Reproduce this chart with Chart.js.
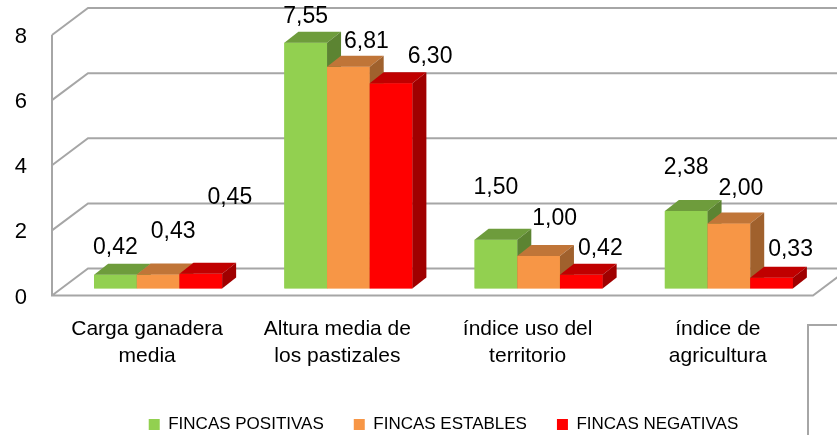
<!DOCTYPE html>
<html>
<head>
<meta charset="utf-8">
<script src="https://cdn.jsdelivr.net/npm/chart.js@4.4.1/dist/chart.umd.min.js"></script>
<style>
  html, body { margin: 0; padding: 0; background: #ffffff; }
  #wrap { width: 837px; height: 435px; position: relative; }
</style>
</head>
<body>
<div id="wrap"><canvas id="c" width="837" height="435"></canvas></div>
<script>
// ---- data ----
const categories = [
  ["Carga ganadera", "media"],
  ["Altura media de", "los pastizales"],
  ["índice uso del", "territorio"],
  ["índice de", "agricultura"]
];
const seriesNames = ["FINCAS POSITIVAS", "FINCAS ESTABLES", "FINCAS NEGATIVAS"];
const fincasPositivas = [0.42, 7.55, 1.50, 2.38];
const fincasEstables  = [0.43, 6.81, 1.00, 2.00];
const fincasNegativas = [0.45, 6.30, 0.42, 0.33];
const yTickValues = [0, 2, 4, 6, 8];

// ---- styles ----
const frontColors = ["#92D050", "#F79646", "#FF0000"];
const topColors   = ["#6E9C3C", "#C07538", "#C00000"];
const sideColors  = ["#5C8432", "#A0612D", "#A00000"];
const FONT = "'Liberation Sans', Arial, sans-serif";
const GRID = "#a6a6a6";
const DEPTH = { dx: 14, dy: -11 };           // bar depth
const WALL = { fx: -11, fy: 7, bx: 25, by: -20 }; // wall front/back offsets from bar plane
// label nudges relative to bar top centre [category][series] (dx, dy)
const labelNudge = [
  [[0, -1], [15, -17], [29, -50]],
  [[0, 0], [18, 1], [39, -1]],
  [[0, -26], [16, -11], [19, 0]],
  [[0, -17], [12, -9], [19, -2]]
];

const fmt = v => v.toFixed(2).replace('.', ',');

const wallPlugin = {
  id: 'walls',
  beforeDatasetsDraw(chart) {
    const ctx = chart.ctx, ys = chart.scales.y, a = chart.chartArea;
    ctx.save();
    ctx.strokeStyle = GRID;
    ctx.lineWidth = 2;
    ctx.beginPath();
    yTickValues.forEach(v => {
      const py = ys.getPixelForValue(v);
      ctx.moveTo(a.left + WALL.fx, py + WALL.fy);
      ctx.lineTo(a.left + WALL.bx, py + WALL.by);
      ctx.lineTo(a.right + WALL.bx + 20, py + WALL.by);
    });
    const y0 = ys.getPixelForValue(0), yTop = ys.getPixelForValue(8);
    ctx.moveTo(a.left + WALL.fx, yTop + WALL.fy);
    ctx.lineTo(a.left + WALL.fx, y0 + WALL.fy);
    ctx.lineTo(a.right + WALL.fx, y0 + WALL.fy);
    ctx.lineTo(a.right + WALL.bx, y0 + WALL.by);
    ctx.stroke();
    ctx.restore();
  }
};

const bars3dPlugin = {
  id: 'bars3d',
  afterDatasetsDraw(chart) {
    const ctx = chart.ctx;
    const metas = [0, 1, 2].map(i => chart.getDatasetMeta(i));
    ctx.save();
    for (let c = 0; c < categories.length; c++) {
      metas.forEach((meta, s) => {
        const el = meta.data[c];
        const p = el.getProps(['x', 'y', 'base', 'width'], true);
        const l = p.x - p.width / 2, r = p.x + p.width / 2;
        ctx.fillStyle = frontColors[s];
        ctx.fillRect(l, p.y, r - l, p.base - p.y);
        ctx.fillStyle = topColors[s];
        ctx.beginPath();
        ctx.moveTo(l, p.y);
        ctx.lineTo(l + DEPTH.dx, p.y + DEPTH.dy);
        ctx.lineTo(r + DEPTH.dx, p.y + DEPTH.dy);
        ctx.lineTo(r, p.y);
        ctx.closePath();
        ctx.fill();
        ctx.fillStyle = sideColors[s];
        ctx.beginPath();
        ctx.moveTo(r, p.y);
        ctx.lineTo(r + DEPTH.dx, p.y + DEPTH.dy);
        ctx.lineTo(r + DEPTH.dx, p.base + DEPTH.dy);
        ctx.lineTo(r, p.base);
        ctx.closePath();
        ctx.fill();
      });
    }
    ctx.fillStyle = '#000';
    ctx.font = "23px " + FONT;
    ctx.textAlign = 'center';
    ctx.textBaseline = 'middle';
    for (let c = 0; c < categories.length; c++) {
      metas.forEach((meta, s) => {
        const el = meta.data[c];
        const p = el.getProps(['x', 'y'], true);
        const n = labelNudge[c][s];
        const v = chart.data.datasets[s].data[c];
        ctx.fillText(fmt(v), p.x + n[0], p.y - 26 + n[1]);
      });
    }
    ctx.restore();
  }
};

const framePlugin = {
  id: 'frame',
  afterDraw(chart) {
    const ctx = chart.ctx;
    ctx.save();
    ctx.strokeStyle = GRID;
    ctx.lineWidth = 2;
    ctx.beginPath();
    ctx.moveTo(808, chart.height + 2);
    ctx.lineTo(808, 325);
    ctx.lineTo(chart.width + 2, 325);
    ctx.stroke();
    ctx.restore();
  }
};

const seriesValues = [fincasPositivas, fincasEstables, fincasNegativas];

new Chart(document.getElementById('c'), {
  type: 'bar',
  data: {
    labels: categories,
    datasets: seriesValues.map((vals, i) => ({
      label: seriesNames[i],
      data: vals,
      backgroundColor: frontColors[i],
      borderWidth: 0,
      categoryPercentage: 0.673,
      barPercentage: 1.0
    }))
  },
  options: {
    responsive: false,
    animation: false,
    devicePixelRatio: 1,
    layout: { padding: { top: 28, right: 13, bottom: -8, left: 0 } },
    plugins: {
      legend: {
        position: 'bottom',
        fullSize: false,
        labels: {
          boxWidth: 11,
          boxHeight: 11,
          padding: 30,
          color: '#000',
          font: { family: FONT, size: 17 }
        }
      },
      tooltip: { enabled: false }
    },
    scales: {
      x: {
        grid: { display: false, drawTicks: false },
        border: { display: false },
        ticks: {
          color: '#000',
          font: { family: FONT, size: 21, lineHeight: 1.25 },
          padding: 28,
          labelOffset: -11,
          maxRotation: 0,
          autoSkip: false
        },
        afterFit(scale) {
          scale.height = 97.5;
          scale.paddingLeft = 0; scale.paddingRight = 0;
        }
      },
      y: {
        min: 0,
        max: 8,
        grid: { display: false, drawTicks: false },
        border: { display: false },
        ticks: {
          stepSize: 2,
          color: '#000',
          font: { family: FONT, size: 22 },
          padding: 36,
          labelOffset: 9
        },
        afterFit(scale) {
          scale.width = 63;
          scale.paddingTop = 0; scale.paddingBottom = 0;
        }
      }
    }
  },
  plugins: [wallPlugin, bars3dPlugin, framePlugin]
});
</script>
</body>
</html>
